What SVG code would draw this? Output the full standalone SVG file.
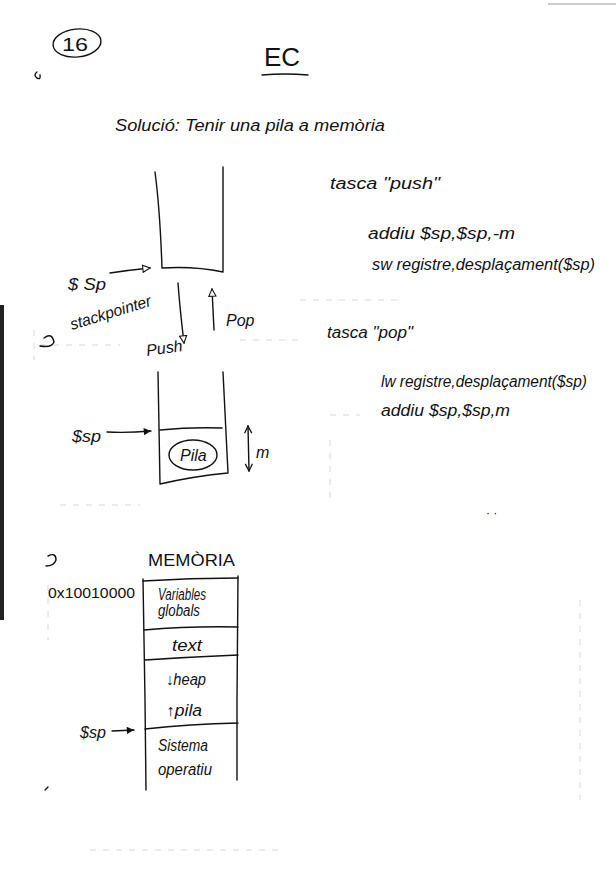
<svg xmlns="http://www.w3.org/2000/svg" width="616" height="876" viewBox="0 0 616 876">
  <style>
    .ink { fill: none; stroke: #111; stroke-width: 1.4; stroke-linecap: round; stroke-linejoin: round; }
    .faint { fill: none; stroke: #d8d8d8; stroke-width: 1; stroke-dasharray: 6 7; }
    .t { font-family: "Liberation Sans", "DejaVu Sans", sans-serif; fill: #111; }
    .hand { font-size: 16px; font-style: italic; }
  </style>
  <defs>
    <marker id="open" viewBox="0 0 10 10" refX="9" refY="5" markerWidth="9" markerHeight="9" orient="auto" markerUnits="userSpaceOnUse">
      <path d="M1,1 L9,5 L1,9 Z" fill="#fff" stroke="#111" stroke-width="1.2"/>
    </marker>
    <marker id="solid" viewBox="0 0 10 10" refX="9" refY="5" markerWidth="9" markerHeight="9" orient="auto" markerUnits="userSpaceOnUse">
      <path d="M1,1 L9,5 L1,9 Z" fill="#111"/>
    </marker>
    <marker id="vee" viewBox="0 0 10 10" refX="9" refY="5" markerWidth="9" markerHeight="9" orient="auto-start-reverse" markerUnits="userSpaceOnUse">
      <path d="M1,1 L9,5 L1,9" fill="none" stroke="#111" stroke-width="1.4"/>
    </marker>
  </defs>

  <rect width="616" height="876" fill="#fff"/>

  <!-- scan edge -->
  <rect x="0" y="305" width="4" height="315" fill="#222"/>
  <line x1="548" y1="4" x2="616" y2="4" stroke="#999" stroke-width="1"/>

  <!-- faint ruled marks -->
  <g id="ruling">
    <path class="faint" d="M40,345 H120 M240,340 H300 M60,505 H140 M300,300 H400 M90,850 H280 M330,415 H360"/>
    <path class="faint" d="M34,330 V360 M48,585 V640 M580,600 V800 M330,440 V500"/>
  </g>

  <!-- page header -->
  <g id="page-number">
    <ellipse class="ink" cx="77" cy="43" rx="24" ry="14" transform="rotate(-6 77 43)"/>
    <text class="t" x="62" y="51" font-size="19" textLength="26" lengthAdjust="spacingAndGlyphs">16</text>
  </g>
  <path class="ink" d="M37,72 q-4,3 0,6 q4,2 3,-3" stroke-width="1.6"/>

  <g id="title">
    <text class="t" x="264" y="66" font-size="26">EC</text>
    <path class="ink" d="M262,75 Q285,73 308,75"/>
  </g>

  <g id="subtitle">
    <text class="t hand" x="115" y="131" font-size="17" textLength="270" lengthAdjust="spacingAndGlyphs">Solució: Tenir una pila a memòria</text>
  </g>

  <!-- first stack: empty -->
  <g id="stack-empty">
    <path class="ink" d="M155,172 Q160,210 162,268 Q195,266 223,272 L223,167"/>
  </g>
  <g id="sp-label-1">
    <text class="t hand" x="68" y="290" font-size="17" textLength="38" lengthAdjust="spacingAndGlyphs">$ Sp</text>
    <text class="t hand" x="72" y="330" font-size="15" textLength="84" lengthAdjust="spacingAndGlyphs" transform="rotate(-17 72 330)">stackpointer</text>
  </g>

  <g id="push-pop">
    <text class="t hand" x="147" y="356" font-size="13" transform="rotate(-8 147 356)">Push</text>
    <text class="t hand" x="226" y="326" font-size="13">Pop</text>
  </g>

  <!-- second stack: with one element -->
  <g id="stack-full">
    <path class="ink" d="M158,372 L160,484 Q195,476 228,473 L223,372"/>
    <path class="ink" d="M160,430 Q190,427 222,428" stroke-width="1.6"/>
    <ellipse class="ink" cx="193" cy="455" rx="24" ry="15" stroke-width="1"/>
    <text class="t hand" x="180" y="461" font-size="13">Pila</text>
    <text class="t hand" x="256" y="458" font-size="17">m</text>
  </g>
  <g id="sp-label-2">
    <text class="t hand" x="72" y="442" font-size="17" textLength="29" lengthAdjust="spacingAndGlyphs">$sp</text>
  </g>

  <!-- instructions -->
  <g id="push-code">
    <text class="t hand" x="330" y="189" textLength="110" lengthAdjust="spacingAndGlyphs">tasca "push"</text>
    <text class="t hand" x="368" y="239" textLength="147" lengthAdjust="spacingAndGlyphs">addiu $sp,$sp,-m</text>
    <text class="t hand" x="372" y="270" textLength="223" lengthAdjust="spacingAndGlyphs">sw registre,desplaçament($sp)</text>
  </g>
  <g id="pop-code">
    <text class="t hand" x="327" y="338" textLength="86" lengthAdjust="spacingAndGlyphs">tasca "pop"</text>
    <text class="t hand" x="381" y="387" textLength="206" lengthAdjust="spacingAndGlyphs">lw registre,desplaçament($sp)</text>
    <text class="t hand" x="381" y="416" textLength="129" lengthAdjust="spacingAndGlyphs">addiu $sp,$sp,m</text>
  </g>
  <text class="t" x="486" y="517" font-size="12" fill="#666">· ·</text>

  <!-- memory map -->
  <g id="memory-title">
    <text class="t" x="148" y="566" font-size="17" textLength="87" lengthAdjust="spacingAndGlyphs">MEMÒRIA</text>
  </g>
  <g id="memory">
    <path class="ink" d="M143,579 L145,700 L146,790"/>
    <path class="ink" d="M238,576 L237,700 L237,780"/>
    <path class="ink" d="M143,581 Q190,578 238,578"/>
    <path class="ink" d="M144,630 Q190,626 238,627"/>
    <path class="ink" d="M145,660 Q190,657 238,655"/>
    <path class="ink" d="M145,729 Q190,724 238,723"/>
  </g>
  <g id="seg-globals">
    <text class="t hand" x="158" y="600" font-size="13" textLength="48" lengthAdjust="spacingAndGlyphs">Variables</text>
    <text class="t hand" x="158" y="616" font-size="13" textLength="42" lengthAdjust="spacingAndGlyphs">globals</text>
  </g>
  <g id="seg-text"><text class="t hand" x="172" y="651" font-size="15" textLength="30" lengthAdjust="spacingAndGlyphs">text</text></g>
  <g id="seg-heap"><text class="t hand" x="166" y="685" font-size="15" textLength="40" lengthAdjust="spacingAndGlyphs">↓heap</text></g>
  <g id="seg-pila"><text class="t hand" x="166" y="716" font-size="15" textLength="36" lengthAdjust="spacingAndGlyphs">↑pila</text></g>
  <g id="seg-os">
    <text class="t hand" x="158" y="751" font-size="15" textLength="50" lengthAdjust="spacingAndGlyphs">Sistema</text>
    <text class="t hand" x="158" y="775" font-size="14" textLength="54" lengthAdjust="spacingAndGlyphs">operatiu</text>
  </g>
  <g id="address">
    <text class="t" x="48" y="598" font-size="14" textLength="87" lengthAdjust="spacingAndGlyphs">0x10010000</text>
  </g>
  <g id="sp-label-3">
    <text class="t hand" x="80" y="738" font-size="16" textLength="26" lengthAdjust="spacingAndGlyphs">$sp</text>
  </g>

  <!-- margin marks -->
  <path class="ink" d="M44,338 q8,-6 10,4 q-2,6 -14,4" stroke-width="1.3"/>
  <path class="ink" d="M48,556 q8,-4 8,4 q-2,6 -10,6" stroke-width="1.3"/>
  <path class="ink" d="M45,790 l3,-3" stroke-width="1"/>

  <!-- connectors -->
  <g id="connectors">
    <path class="ink" d="M110,273 Q130,270 150,268" marker-end="url(#open)"/>
    <path class="ink" d="M178,283 Q180,310 184,343" marker-end="url(#open)"/>
    <path class="ink" d="M214,330 L212,289" marker-end="url(#open)"/>
    <path class="ink" d="M107,432 Q128,433 151,431" stroke-width="1.8" marker-end="url(#solid)"/>
    <path class="ink" d="M248,426 L249,471" marker-start="url(#vee)" marker-end="url(#vee)"/>
    <path class="ink" d="M112,731 L134,730" marker-end="url(#solid)"/>
  </g>
</svg>
